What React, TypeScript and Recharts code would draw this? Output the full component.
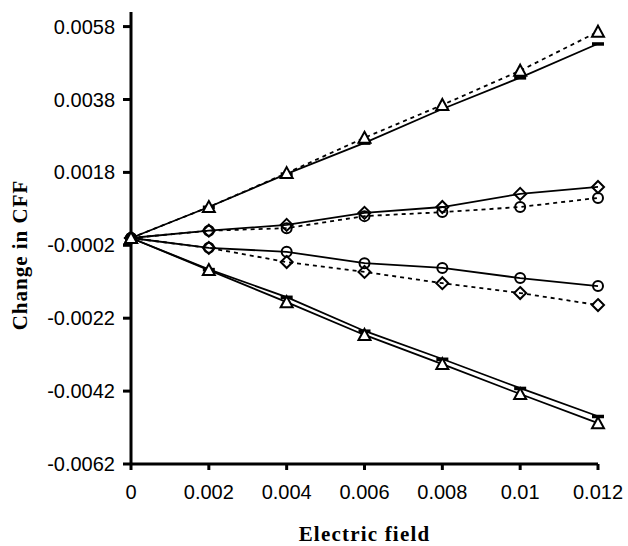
import { LineChart, Line, XAxis, YAxis, Label } from 'recharts'

// Electric field values (x) and tick labels
const fieldValues = [0, 0.002, 0.004, 0.006, 0.008, 0.01, 0.012]
const xTickLabels = ['0', '0.002', '0.004', '0.006', '0.008', '0.01', '0.012']
const yTicks = [-0.0062, -0.0042, -0.0022, -0.0002, 0.0018, 0.0038, 0.0058]

// Change in CFF
const topDashedTriangle = [0, 0.00085, 0.00178, 0.00275, 0.00365, 0.00459, 0.00566]
const topSolidBar = [0, 0.00085, 0.00176, 0.00261, 0.00354, 0.0044, 0.00533]
const upperSolidDiamond = [0, 0.0002, 0.00036, 0.00069, 0.00085, 0.00121, 0.0014]
const upperDashedCircle = [0, 0.0002, 0.00027, 0.0006, 0.00071, 0.00085, 0.0011]
const lowerSolidCircle = [0, -0.00027, -0.00038, -0.00069, -0.00082, -0.0011, -0.00132]
const lowerDashedDiamond = [0, -0.00027, -0.00066, -0.00093, -0.00124, -0.00151, -0.00184]
const bottomSolidBar = [0, -0.00086, -0.00162, -0.00255, -0.00332, -0.00412, -0.00489]
const bottomSolidTriangle = [0, -0.00088, -0.00176, -0.00266, -0.00346, -0.00428, -0.00508]

const chartData = fieldValues.map((x, i) => ({
  x,
  topDashedTriangle: topDashedTriangle[i],
  topSolidBar: topSolidBar[i],
  upperSolidDiamond: upperSolidDiamond[i],
  upperDashedCircle: upperDashedCircle[i],
  lowerSolidCircle: lowerSolidCircle[i],
  lowerDashedDiamond: lowerDashedDiamond[i],
  bottomSolidBar: bottomSolidBar[i],
  bottomSolidTriangle: bottomSolidTriangle[i],
}))

// Marker shapes
const triangleDot = (name: string) => (p: any) => (
  <path
    key={`${name}-${p.index}`}
    d={`M${p.cx},${p.cy - 6} L${p.cx + 6},${p.cy + 5} L${p.cx - 6},${p.cy + 5} Z`}
    fill="#fff"
    stroke="#000"
    strokeWidth={2}
  />
)
const circleDot = (name: string) => (p: any) => (
  <circle key={`${name}-${p.index}`} cx={p.cx} cy={p.cy} r={5} fill="none" stroke="#000" strokeWidth={2} />
)
const diamondDot = (name: string) => (p: any) => (
  <path
    key={`${name}-${p.index}`}
    d={`M${p.cx},${p.cy - 6} L${p.cx + 6},${p.cy} L${p.cx},${p.cy + 6} L${p.cx - 6},${p.cy} Z`}
    fill="none"
    stroke="#000"
    strokeWidth={2}
  />
)
const barDot = (name: string) => (p: any) => (
  <rect key={`${name}-${p.index}`} x={p.cx - 6} y={p.cy - 1.5} width={12} height={3.5} fill="#000" />
)

const series = [
  { key: 'topSolidBar', dash: undefined, dot: barDot },
  { key: 'topDashedTriangle', dash: '4 4', dot: triangleDot },
  { key: 'upperSolidDiamond', dash: undefined, dot: diamondDot },
  { key: 'upperDashedCircle', dash: '4 4', dot: circleDot },
  { key: 'lowerSolidCircle', dash: undefined, dot: circleDot },
  { key: 'lowerDashedDiamond', dash: '4 4', dot: diamondDot },
  { key: 'bottomSolidBar', dash: undefined, dot: barDot },
  { key: 'bottomSolidTriangle', dash: undefined, dot: triangleDot },
]

const tickStyle = { fill: '#000', fontSize: 20, fontFamily: '"Liberation Sans", Arial, sans-serif' }
const titleStyle = { fill: '#000', fontSize: 21, fontWeight: 700, fontFamily: '"Liberation Serif", "Times New Roman", serif' }

export default function App() {
  return (
    <div style={{ width: 628, height: 546, background: '#fff' }}>
      <style>{'body{margin:0;}'}</style>
      <LineChart width={628} height={546} data={chartData} margin={{ top: 12, right: 30, bottom: 0, left: 0 }}>
        <XAxis
          dataKey="x"
          type="number"
          domain={[0, 0.012]}
          ticks={fieldValues}
          tickFormatter={(v: number) => xTickLabels[fieldValues.indexOf(v)] ?? String(v)}
          height={82}
          tick={tickStyle}
          tickSize={6}
          tickMargin={15}
          axisLine={{ stroke: '#000', strokeWidth: 3 }}
          tickLine={{ stroke: '#000', strokeWidth: 3 }}
        >
          <Label
            content={(props: any) => {
              const vb = props.viewBox
              return (
                <text x={vb.x + vb.width / 2} y={vb.y + vb.height - 5} textAnchor="middle" letterSpacing={1.2} {...titleStyle}>
                  Electric field
                </text>
              )
            }}
          />
        </XAxis>
        <YAxis
          type="number"
          domain={[-0.0062, 0.0062]}
          ticks={yTicks}
          allowDataOverflow
          tickFormatter={(v: number) => v.toFixed(4)}
          width={131}
          tick={tickStyle}
          tickSize={8}
          tickMargin={8}
          axisLine={{ stroke: '#000', strokeWidth: 3 }}
          tickLine={{ stroke: '#000', strokeWidth: 3 }}
        >
          <Label
            content={(props: any) => {
              const vb = props.viewBox
              const cx = vb.x + 27
              const cy = vb.y + vb.height / 2 + 17
              return (
                <text x={cx} y={cy} textAnchor="middle" letterSpacing={1} transform={`rotate(-90, ${cx}, ${cy})`} {...titleStyle}>
                  Change in CFF
                </text>
              )
            }}
          />
        </YAxis>
        {series.map(s => (
          <Line
            key={s.key}
            type="linear"
            dataKey={s.key}
            stroke="#000"
            strokeWidth={1.8}
            strokeDasharray={s.dash}
            dot={s.dot(s.key)}
            activeDot={false}
            isAnimationActive={false}
          />
        ))}
      </LineChart>
    </div>
  )
}
